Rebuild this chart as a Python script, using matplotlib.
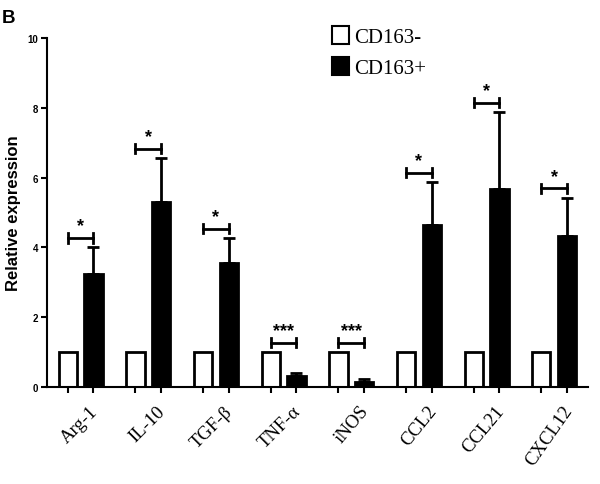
import matplotlib.pyplot as plt
from matplotlib.patches import Patch
import numpy as np

# ------------------------ datos ----------------------------
genes = ['Arg-1', 'IL-10', 'TGF-β', 'TNF-α', 'iNOS', 'CCL2', 'CCL21', 'CXCL12']
cd163_neg = [1.0, 1.0, 1.0, 1.0, 1.0, 1.0, 1.0, 1.0]
cd163_pos = [3.24, 5.30, 3.55, 0.31, 0.15, 4.64, 5.67, 4.33]
cd163_pos_err = [0.76, 1.26, 0.72, 0.09, 0.08, 1.23, 2.21, 1.09]
signif = ['*', '*', '*', '***', '***', '*', '*', '*']
label_rot = [45, 45, 45, 45, 50, 51, 50, 55]

# ------------------------ grafico ----------------------------
fig = plt.figure(figsize=(6, 4.85), dpi=100)
ax = fig.add_axes([0.078, 0.2, 0.902, 0.7196])

x = np.arange(len(genes))
off = 0.19
w = 0.27
neg_x = x - off
pos_x = x + off

ax.bar(neg_x, cd163_neg, width=w, color='white', edgecolor='black', linewidth=2)
ax.bar(pos_x, cd163_pos, width=w, color='black', edgecolor='black', linewidth=2)
ax.errorbar(pos_x, cd163_pos, yerr=[np.zeros(len(genes)), cd163_pos_err],
            fmt='none', ecolor='black', elinewidth=2, capsize=4, capthick=2)

# corchetes de significancia
for i in range(len(genes)):
    top = max(cd163_neg[i], cd163_pos[i] + cd163_pos_err[i]) + 0.27
    ax.plot([neg_x[i], pos_x[i]], [top, top], color='black', lw=2)
    ax.plot([neg_x[i], neg_x[i]], [top - 0.13, top + 0.13], color='black', lw=2)
    ax.plot([pos_x[i], pos_x[i]], [top - 0.13, top + 0.13], color='black', lw=2)
    ax.text(x[i], top + 0.1, signif[i], ha='center', va='bottom',
            fontsize=13, fontweight='bold', family='Liberation Sans')

ax.set_xlim(-0.5, len(genes) - 0.5)
ax.set_ylim(0, 10)
ax.set_yticks([0, 2, 4, 6, 8, 10])
for lbl in ax.get_yticklabels():
    lbl.set_fontweight('bold')
    lbl.set_family('Liberation Sans')
ax.tick_params(axis='y', labelsize=7, width=1.5, length=4, pad=2)

ax.set_xticks(np.concatenate([neg_x, pos_x]))
ax.set_xticklabels([])
ax.tick_params(axis='x', which='major', width=1.5, length=4, direction='out')
ax.set_xticks(x + 0.12, genes, minor=True)
ax.tick_params(axis='x', which='minor', length=0, pad=11)
for lbl, r in zip(ax.get_xticklabels(minor=True), label_rot):
    lbl.set_rotation(r)
    lbl.set_ha('right')
    lbl.set_rotation_mode('anchor')
    lbl.set_family('Liberation Serif')
    lbl.set_fontsize(13.5)

for s in ['top', 'right']:
    ax.spines[s].set_visible(False)
for s in ['left', 'bottom']:
    ax.spines[s].set_linewidth(1.5)

ax.set_ylabel('Relative expression', fontsize=12, fontweight='bold',
              family='Liberation Sans', labelpad=5)

handles = [Patch(facecolor='white', edgecolor='black', linewidth=1.5),
           Patch(facecolor='black', edgecolor='black', linewidth=1.5)]
leg = ax.legend(handles, ['CD163-', 'CD163+'], loc='upper left',
                bbox_to_anchor=(0.527, 1.035), borderaxespad=0, borderpad=0,
                frameon=False, handlelength=0.8, handleheight=1.0,
                handletextpad=0.25, labelspacing=0.45,
                prop={'family': 'Liberation Serif', 'size': 15})

fig.text(0.003, 0.962, 'B', fontsize=13.5, fontweight='bold', family='Liberation Sans',
         va='center', ha='left')

fig.savefig('out.png', dpi=100)
